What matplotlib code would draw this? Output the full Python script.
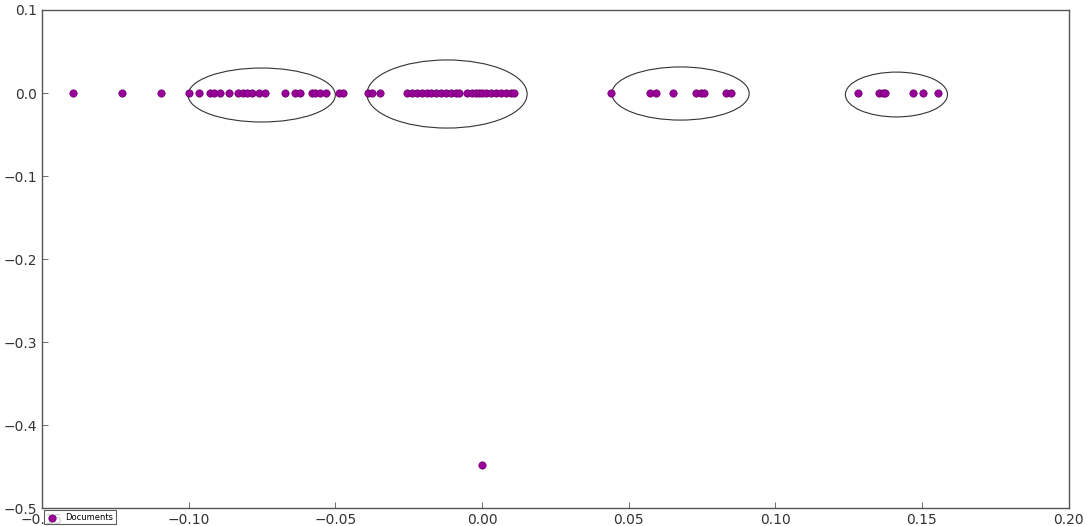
import matplotlib
matplotlib.use("Agg")
import matplotlib.pyplot as plt
from matplotlib.patches import Ellipse

# Document x positions (all at y = 0) plus one outlier
doc_x = [-0.1395, -0.1228, -0.1093, -0.0998, -0.0966, -0.0926, -0.0915, -0.0892,
         -0.0863, -0.0832, -0.0816, -0.0801, -0.0784, -0.0761, -0.0738, -0.0672,
         -0.0636, -0.0619, -0.0581, -0.0568, -0.0551, -0.0531, -0.0488, -0.0474,
         -0.0388, -0.0375, -0.0346, -0.0255, -0.0238, -0.0221, -0.0204, -0.0187,
         -0.0175, -0.0158, -0.0141, -0.0124, -0.0107, -0.0090, -0.0078, -0.0050,
         -0.0033, -0.0022, -0.0010, 0.0001, 0.0013, 0.0030, 0.0047, 0.0064,
         0.0081, 0.0098, 0.0109,
         0.0439, 0.0573, 0.0593, 0.0650, 0.0731, 0.0746, 0.0758, 0.0832, 0.0849,
         0.1283, 0.1355, 0.1366, 0.1375, 0.1471, 0.1503, 0.1556,
         0.0000]
doc_y = [0.0] * (len(doc_x) - 1) + [-0.448]

# Cluster ellipses: centre x, centre y, width, height
ell_cx = [-0.0751, -0.0119, 0.0677, 0.1413]
ell_cy = [-0.0024, -0.0012, -0.0006, -0.0018]
ell_w = [0.0502, 0.0546, 0.0468, 0.0348]
ell_h = [0.065, 0.082, 0.064, 0.054]

fig = plt.figure(figsize=(10.87, 5.26), dpi=100)
ax = fig.add_axes([0.0386, 0.034, 0.9445, 0.947])

ax.scatter(doc_x, doc_y, s=28, color="#990099", edgecolors="#6a006a",
           linewidths=0.5, label="Documents", zorder=3)

for cx, cy, w, h in zip(ell_cx, ell_cy, ell_w, ell_h):
    ax.add_patch(Ellipse((cx, cy), w, h, fill=False, edgecolor="#333333",
                         linewidth=0.8, zorder=2))

ax.set_xlim(-0.15, 0.20)
ax.set_ylim(-0.5, 0.1)
ax.set_xticks([-0.15, -0.10, -0.05, 0.00, 0.05, 0.10, 0.15, 0.20])
ax.set_xticklabels(["\u22120.15", "\u22120.10", "\u22120.05", "0.00", "0.05",
                    "0.10", "0.15", "0.20"])
ax.set_yticks([0.1, 0.0, -0.1, -0.2, -0.3, -0.4, -0.5])
ax.set_yticklabels(["0.1", "0.0", "\u22120.1", "\u22120.2", "\u22120.3",
                    "\u22120.4", "\u22120.5"])
ax.tick_params(direction="in", length=4, width=0.6, colors="#555555",
               labelcolor="#333333", labelsize=10, top=False, right=False)
for sp in ax.spines.values():
    sp.set_color("#555555")
    sp.set_linewidth(1.0)

leg = ax.legend(loc="lower left", bbox_to_anchor=(0.0, -0.036), scatterpoints=1,
                fontsize=6, frameon=True, fancybox=False, borderpad=0.3,
                handletextpad=0.8, borderaxespad=0.2, handlelength=1.5)
leg.get_frame().set_edgecolor("#333333")
leg.get_frame().set_linewidth(0.8)
leg.set_zorder(5)

fig.savefig("out.png", dpi=100)
